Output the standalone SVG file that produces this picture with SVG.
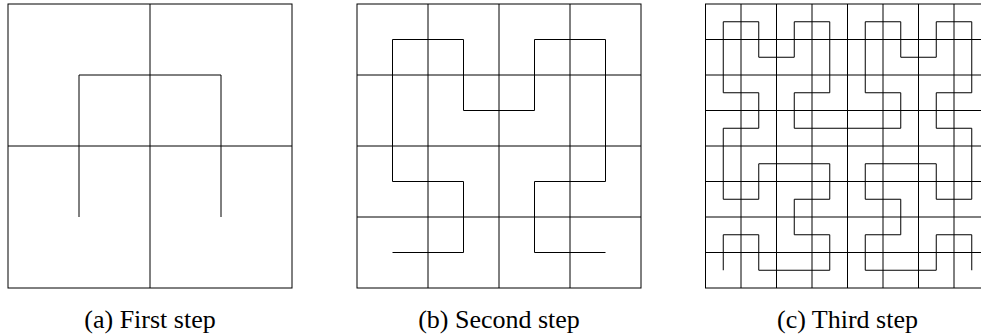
<svg xmlns="http://www.w3.org/2000/svg" width="981" height="335" viewBox="0 0 981 335">
<style>
.g{fill:none;stroke:#000;stroke-width:1}
.c{fill:none;stroke:#000;stroke-width:1;stroke-linejoin:miter}
.t{font-family:"Liberation Serif","Times New Roman",serif;font-size:26px;fill:#000;text-anchor:middle}
</style>
<rect width="981" height="335" fill="#fff"/>
<g id="panel-a">
<rect class="g" x="8" y="4" width="284" height="284"/>
<path class="g" d="M150 4V288M8 146H292"/>
<polyline class="c" points="79,217 79,75 221,75 221,217"/>
<text class="t" x="150" y="328">(a) First step</text>
</g>
<g id="panel-b">
<rect class="g" x="357" y="4" width="284" height="284"/>
<path class="g" d="M428 4V288M499 4V288M570 4V288M357 75H641M357 146H641M357 217H641"/>
<polyline class="c" points="392.5,252.5 463.5,252.5 463.5,181.5 392.5,181.5 392.5,39.5 463.5,39.5 463.5,110.5 534.5,110.5 534.5,39.5 605.5,39.5 605.5,181.5 534.5,181.5 534.5,252.5 605.5,252.5"/>
<text class="t" x="499" y="328">(b) Second step</text>
</g>
<g id="panel-c">
<rect class="g" x="705.5" y="4" width="284" height="284"/>
<path class="g" d="M741 4V288M776.5 4V288M812 4V288M847.5 4V288M883 4V288M918.5 4V288M954 4V288M705.5 39.5H989.5M705.5 75H989.5M705.5 110.5H989.5M705.5 146H989.5M705.5 181.5H989.5M705.5 217H989.5M705.5 252.5H989.5"/>
<polyline class="c" points="723.25,270.25 723.25,234.75 758.75,234.75 758.75,270.25 829.75,270.25 829.75,234.75 794.25,234.75 794.25,199.25 829.75,199.25 829.75,163.75 758.75,163.75 758.75,199.25 723.25,199.25 723.25,128.25 758.75,128.25 758.75,92.75 723.25,92.75 723.25,21.75 758.75,21.75 758.75,57.25 794.25,57.25 794.25,21.75 829.75,21.75 829.75,92.75 794.25,92.75 794.25,128.25 900.75,128.25 900.75,92.75 865.25,92.75 865.25,21.75 900.75,21.75 900.75,57.25 936.25,57.25 936.25,21.75 971.75,21.75 971.75,92.75 936.25,92.75 936.25,128.25 971.75,128.25 971.75,199.25 936.25,199.25 936.25,163.75 865.25,163.75 865.25,199.25 900.75,199.25 900.75,234.75 865.25,234.75 865.25,270.25 936.25,270.25 936.25,234.75 971.75,234.75 971.75,270.25"/>
<text class="t" x="847.5" y="328">(c) Third step</text>
</g>
</svg>
